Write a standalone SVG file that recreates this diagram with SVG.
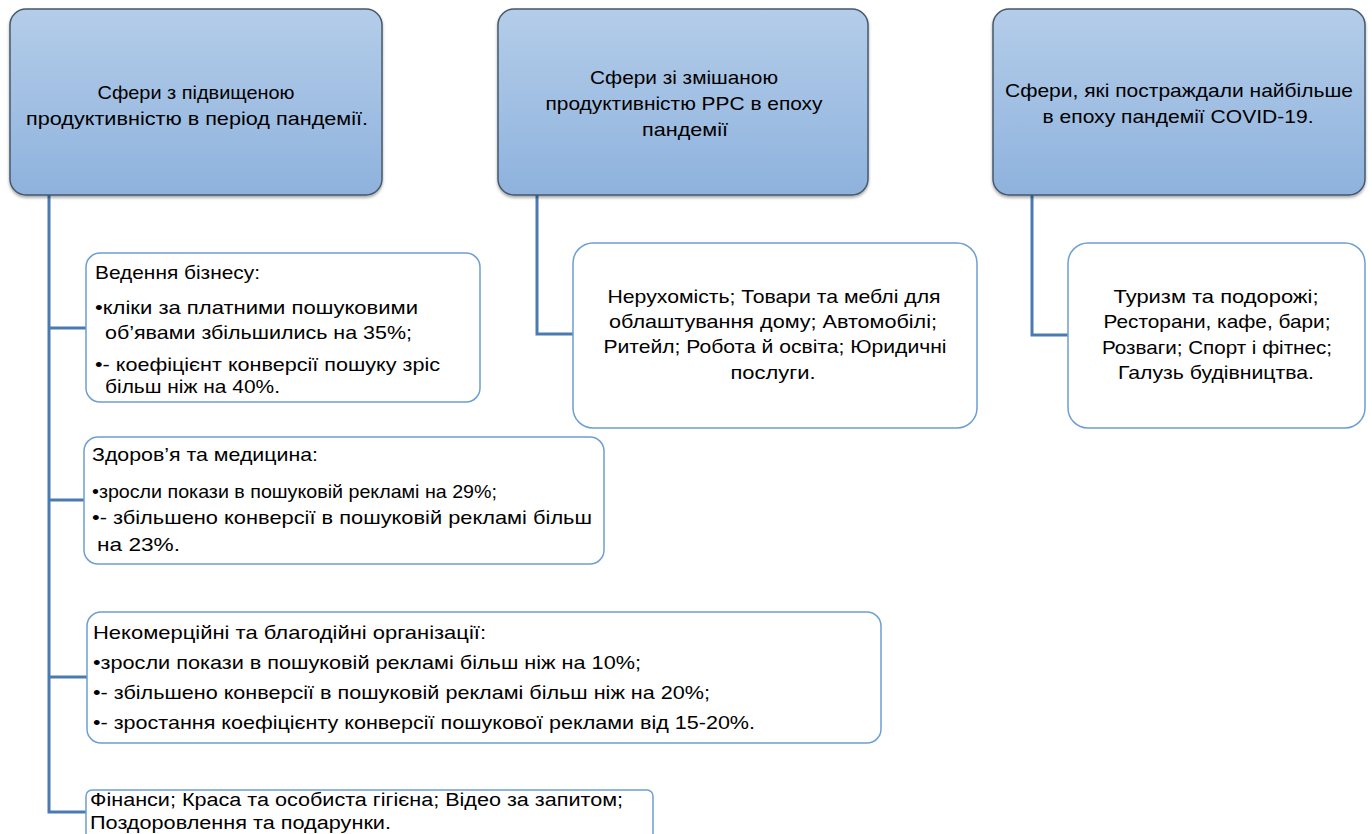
<svg xmlns="http://www.w3.org/2000/svg" width="1372" height="834" viewBox="0 0 1372 834">
<defs>
<linearGradient id="hg" x1="0" y1="0" x2="0" y2="1">
<stop offset="0" stop-color="#b4cde9"/>
<stop offset="1" stop-color="#8eb2dd"/>
</linearGradient>
<filter id="sh" x="-5%" y="-5%" width="110%" height="115%">
<feDropShadow dx="0" dy="2" stdDeviation="1.5" flood-color="#000" flood-opacity="0.35"/>
</filter>
</defs>
<style>
.hdr{fill:url(#hg);stroke:#46586d;stroke-width:1.5;filter:url(#sh)}
.box{fill:#fff;stroke:#6e9fd4;stroke-width:1.5}
.conn{fill:none;stroke:#4a7bb0;stroke-width:3}
text{font-family:"Liberation Sans",Arial,sans-serif;font-size:19px;fill:#000}
.c{text-anchor:middle}
.s{font-size:18px}
</style>
<rect width="1372" height="834" fill="#fff"/>
<g id="connectors">
<path class="conn" d="M49 195 V812 H86"/>
<path class="conn" d="M49 328 H86"/>
<path class="conn" d="M49 500 H84"/>
<path class="conn" d="M49 677 H87"/>
<path class="conn" d="M537 195 V334 H573"/>
<path class="conn" d="M1032 195 V335 H1068"/>
</g>
<g id="h1">
<rect class="hdr" x="10" y="9" width="372" height="186" rx="16"/>
<text class="c" x="196" y="99" textLength="197" lengthAdjust="spacingAndGlyphs">Сфери з підвищеною</text>
<text class="c" x="197" y="125" textLength="342" lengthAdjust="spacingAndGlyphs">продуктивністю в період пандемії.</text>
</g>
<g id="h2">
<rect class="hdr" x="498" y="9" width="370" height="186" rx="16"/>
<text class="c" x="684" y="84" textLength="188" lengthAdjust="spacingAndGlyphs">Сфери зі змішаною</text>
<text class="c" x="684" y="110" textLength="277" lengthAdjust="spacingAndGlyphs">продуктивністю PPC в епоху</text>
<text class="c" x="685" y="136" textLength="86" lengthAdjust="spacingAndGlyphs">пандемії</text>
</g>
<g id="h3">
<rect class="hdr" x="993" y="9" width="372" height="186" rx="16"/>
<text class="c" x="1179" y="97" textLength="348" lengthAdjust="spacingAndGlyphs">Сфери, які постраждали найбільше</text>
<text class="c" x="1178" y="123" textLength="271" lengthAdjust="spacingAndGlyphs">в епоху пандемії COVID-19.</text>
</g>
<g id="c1">
<rect class="box" x="86" y="253" width="394" height="149" rx="14"/>
<text x="95" y="279" textLength="165" lengthAdjust="spacingAndGlyphs">Ведення бізнесу:</text>
<text x="95" y="314" textLength="323" lengthAdjust="spacingAndGlyphs">•кліки за платними пошуковими</text>
<text x="105" y="339" textLength="307" lengthAdjust="spacingAndGlyphs">об’явами збільшились на 35%;</text>
<text x="95" y="371" textLength="345" lengthAdjust="spacingAndGlyphs">•- коефіцієнт конверсії пошуку зріс</text>
<text x="105" y="393" textLength="175" lengthAdjust="spacingAndGlyphs">більш ніж на 40%.</text>
</g>
<g id="c2">
<rect class="box" x="84" y="437" width="520" height="127" rx="14"/>
<text x="92" y="461" textLength="226" lengthAdjust="spacingAndGlyphs">Здоров’я та медицина:</text>
<text x="92" y="498" textLength="405" lengthAdjust="spacingAndGlyphs">•зросли покази в пошуковій рекламі на 29%;</text>
<text x="92" y="524" textLength="500" lengthAdjust="spacingAndGlyphs">•- збільшено конверсії в пошуковій рекламі більш</text>
<text x="97" y="551" textLength="83" lengthAdjust="spacingAndGlyphs">на 23%.</text>
</g>
<g id="c3">
<rect class="box" x="87" y="612" width="794" height="131" rx="14"/>
<text x="93" y="639" textLength="393" lengthAdjust="spacingAndGlyphs">Некомерційні та благодійні організації:</text>
<text x="93" y="669" textLength="548" lengthAdjust="spacingAndGlyphs">•зросли покази в пошуковій рекламі більш ніж на 10%;</text>
<text x="93" y="699" textLength="617" lengthAdjust="spacingAndGlyphs">•- збільшено конверсії в пошуковій рекламі більш ніж на 20%;</text>
<text x="93" y="729" textLength="662" lengthAdjust="spacingAndGlyphs">•- зростання коефіцієнту конверсії пошукової реклами від 15-20%.</text>
</g>
<g id="c4">
<rect class="box" x="86" y="790" width="567" height="70" rx="6"/>
<text class="s" x="90" y="806" textLength="533" lengthAdjust="spacingAndGlyphs">Фінанси;  Краса та особиста гігієна;  Відео за запитом;</text>
<text class="s" x="90" y="829" textLength="301" lengthAdjust="spacingAndGlyphs">Поздоровлення та подарунки.</text>
</g>
<g id="c5">
<rect class="box" x="573" y="243" width="404" height="185" rx="20"/>
<text class="c" x="774" y="303" textLength="333" lengthAdjust="spacingAndGlyphs">Нерухомість; Товари та меблі для</text>
<text class="c" x="773" y="328" textLength="328" lengthAdjust="spacingAndGlyphs">облаштування дому; Автомобілі;</text>
<text class="c" x="775" y="353" textLength="343" lengthAdjust="spacingAndGlyphs">Ритейл; Робота й освіта; Юридичні</text>
<text class="c" x="773" y="379" textLength="85" lengthAdjust="spacingAndGlyphs">послуги.</text>
</g>
<g id="c6">
<rect class="box" x="1068" y="243" width="297" height="185" rx="20"/>
<text class="c" x="1216" y="303" textLength="205" lengthAdjust="spacingAndGlyphs">Туризм та подорожі;</text>
<text class="c" x="1217" y="328" textLength="227" lengthAdjust="spacingAndGlyphs">Ресторани, кафе, бари;</text>
<text class="c" x="1217" y="354" textLength="230" lengthAdjust="spacingAndGlyphs">Розваги; Спорт і фітнес;</text>
<text class="c" x="1216" y="379" textLength="196" lengthAdjust="spacingAndGlyphs">Галузь будівництва.</text>
</g>
</svg>
